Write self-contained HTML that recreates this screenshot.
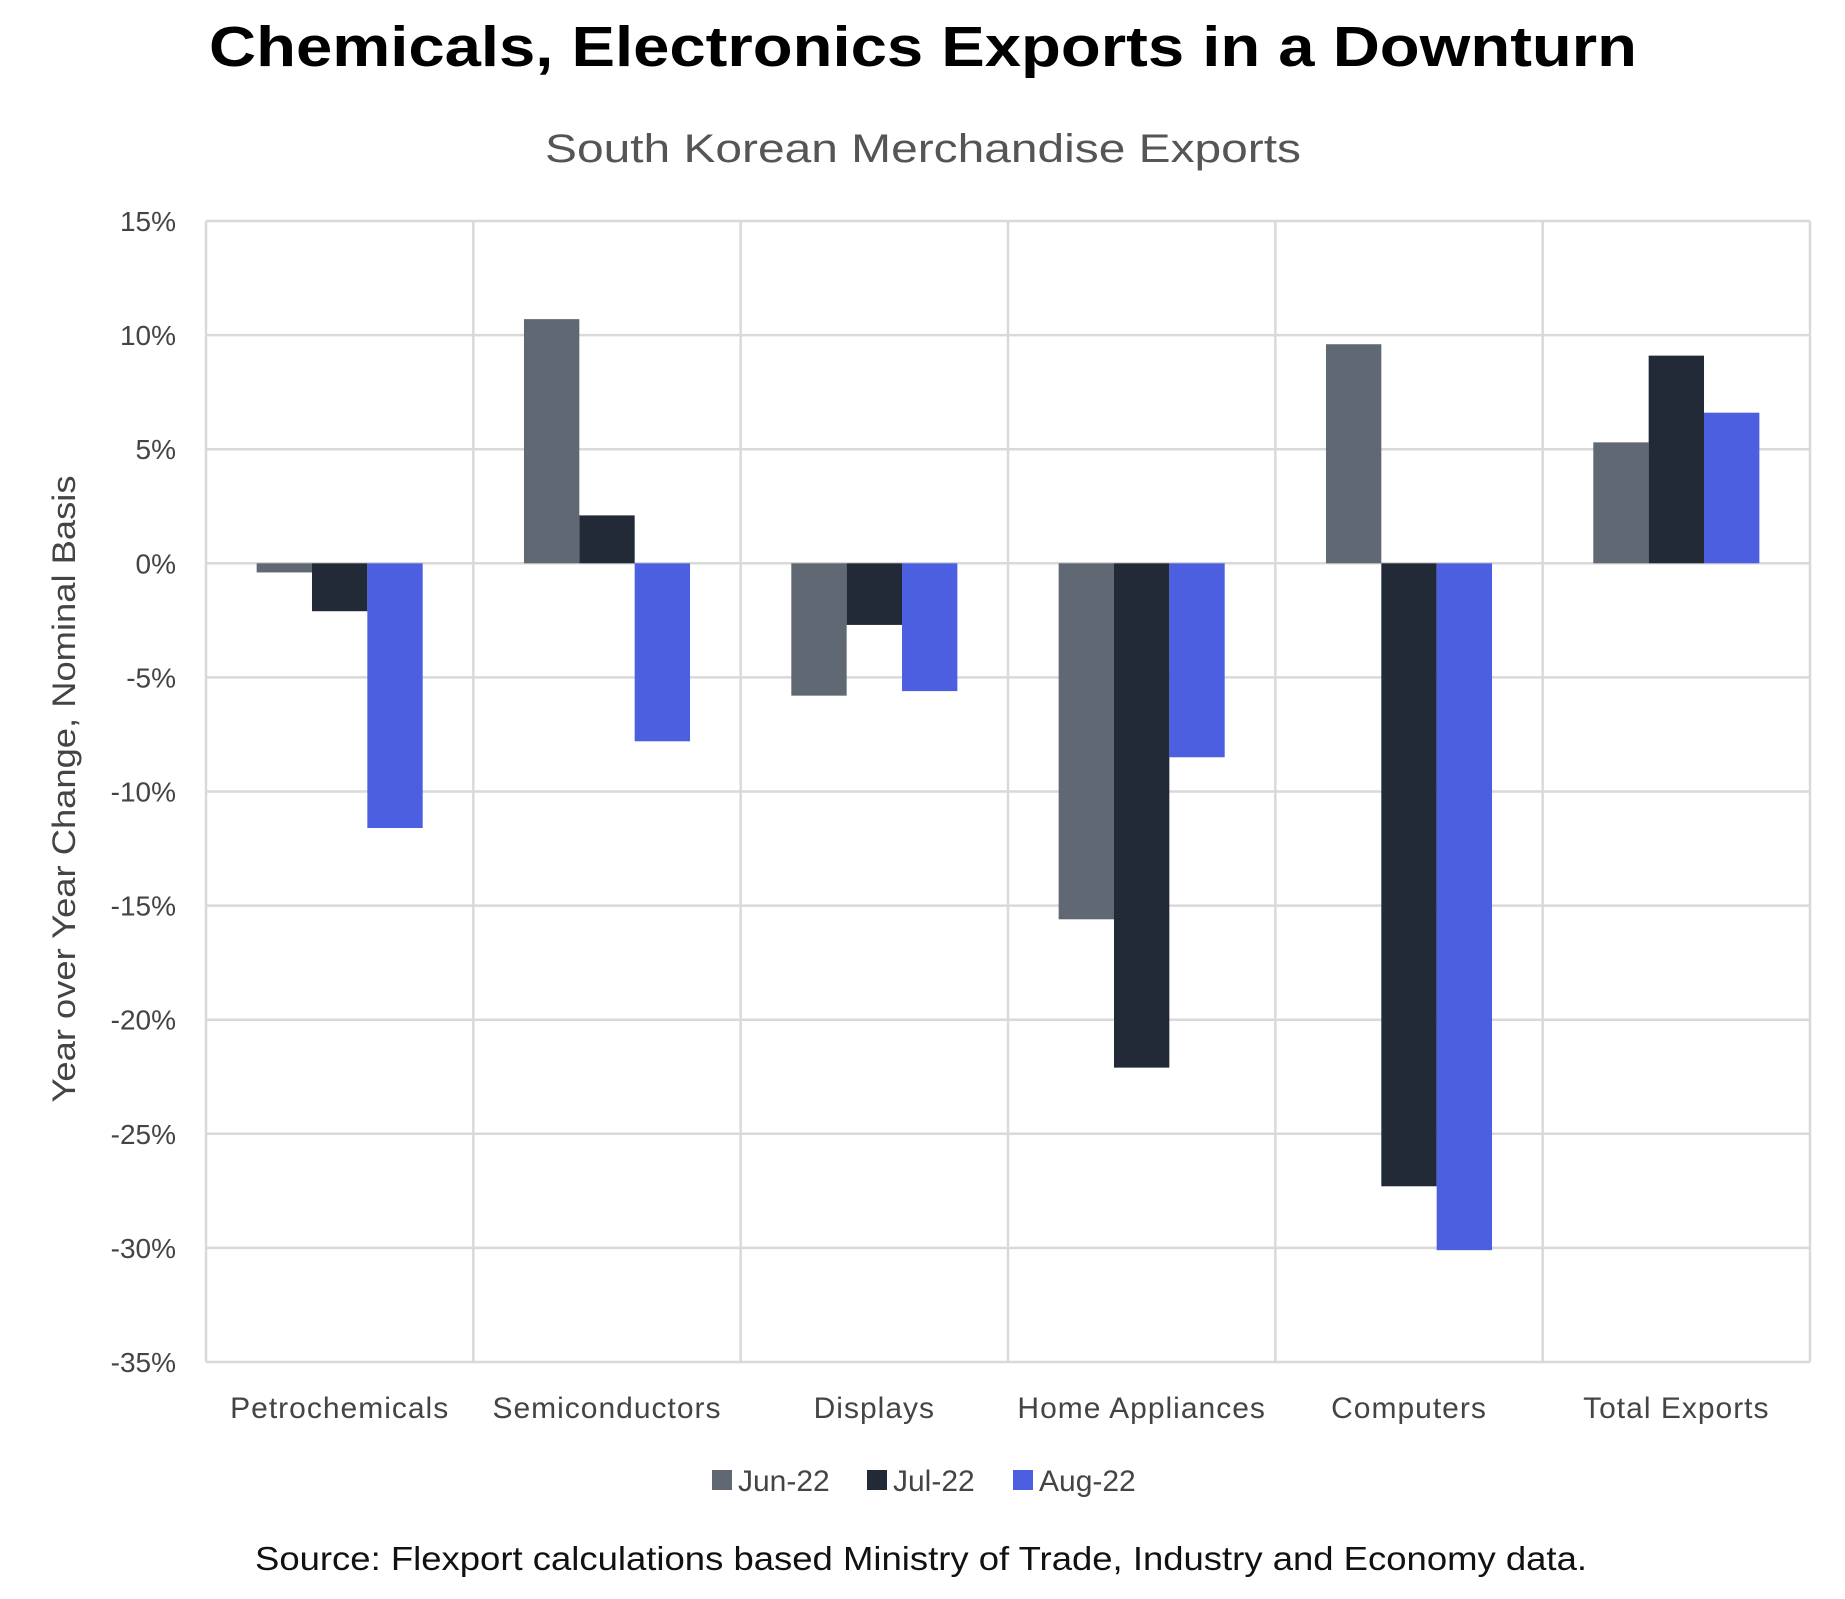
<!DOCTYPE html>
<html><head><meta charset="utf-8"><style>
html,body{margin:0;padding:0;background:#fff;}
svg{display:block;font-family:"Liberation Sans",sans-serif;}
</style></head><body>
<svg id="chart" width="1845" height="1599" viewBox="0 0 1845 1599" xmlns="http://www.w3.org/2000/svg">
<text x="923" y="66" text-anchor="middle" font-size="57" font-weight="bold" fill="#000" textLength="1428" lengthAdjust="spacingAndGlyphs">Chemicals, Electronics Exports in a Downturn</text>
<text x="923" y="162" text-anchor="middle" font-size="40" fill="#555" textLength="756" lengthAdjust="spacingAndGlyphs">South Korean Merchandise Exports</text>
<text transform="translate(75,789) rotate(-90)" text-anchor="middle" font-size="32" fill="#444" textLength="627" lengthAdjust="spacingAndGlyphs">Year over Year Change, Nominal Basis</text>
<g id="grid"></g>
<g id="bars"></g>
<g id="ticks"></g>
<g id="cats"></g>
<g id="legend"></g>
<text x="921" y="1570" text-anchor="middle" font-size="33" fill="#111" textLength="1332" lengthAdjust="spacingAndGlyphs">Source: Flexport calculations based Ministry of Trade, Industry and Economy data.</text>
</svg>
<script>
const categories = ["Petrochemicals","Semiconductors","Displays","Home Appliances","Computers","Total Exports"];
const seriesNames = ["Jun-22","Jul-22","Aug-22"];
const jun22 = [-0.4, 10.7, -5.8, -15.6, 9.6, 5.3];
const jul22 = [-2.1, 2.1, -2.7, -22.1, -27.3, 9.1];
const aug22 = [-11.6, -7.8, -5.6, -8.5, -30.1, 6.6];
const tickValues = [15,10,5,0,-5,-10,-15,-20,-25,-30,-35];
const tickLabels = ["15%","10%","5%","0%","-5%","-10%","-15%","-20%","-25%","-30%","-35%"];
const colors = ["#5f6873","#222a37","#4b5fe0"];
const series = [jun22, jul22, aug22];

const NS="http://www.w3.org/2000/svg";
const L=206,R=1810,T=221,B=1362,yMax=15,yMin=-35;
const y = v => T + (yMax - v) / (yMax - yMin) * (B - T);
const catW = (R - L) / categories.length;
const x = i => L + i * catW;
const barW = catW * 47 / 227, pad = catW * 43 / 227;
function mk(tag, attrs, parent){const e=document.createElementNS(NS,tag);for(const k in attrs)e.setAttribute(k,attrs[k]);parent.appendChild(e);return e;}
const grid=document.getElementById('grid');
tickValues.forEach((v,i)=>{
  const l=mk('line',{x1:L,x2:R,y1:y(v),y2:y(v),stroke:'#d9d9d9','stroke-width':2.5},grid);
  
  
  const t=mk('text',{x:L-30,y:y(v)+10,'text-anchor':'end','font-size':28,fill:'#444'},document.getElementById('ticks'));
  t.textContent=tickLabels[i];
  
  
});
for(let i=0;i<=categories.length;i++){
  const l=mk('line',{x1:x(i),x2:x(i),y1:T,y2:B,stroke:'#d9d9d9','stroke-width':2.5},grid);
  
  
}
const bars=document.getElementById('bars');
categories.forEach((c,i)=>{
  series.forEach((s,j)=>{
    const v=s[i];
    const r=mk('rect',{x:x(i)+pad+j*barW,y:Math.min(y(v),y(0)),width:barW,height:Math.abs(y(v)-y(0)),fill:colors[j]},bars);
    
    
  });
  const t=mk('text',{x:x(i)+catW/2,y:1418,'text-anchor':'middle','font-size':30,fill:'#444','letter-spacing':'1'},document.getElementById('cats'));
  t.textContent=c;
  
  
});
const lg=document.getElementById('legend');
const lx=[712,867,1013];
seriesNames.forEach((n,j)=>{
  const r=mk('rect',{x:lx[j],y:1470,width:20,height:20,fill:colors[j]},lg);
  
  
  const t=mk('text',{x:lx[j]+26,y:1491,'font-size':30,fill:'#444'},lg);
  t.textContent=n;
  
  
});
</script>
</body></html>
